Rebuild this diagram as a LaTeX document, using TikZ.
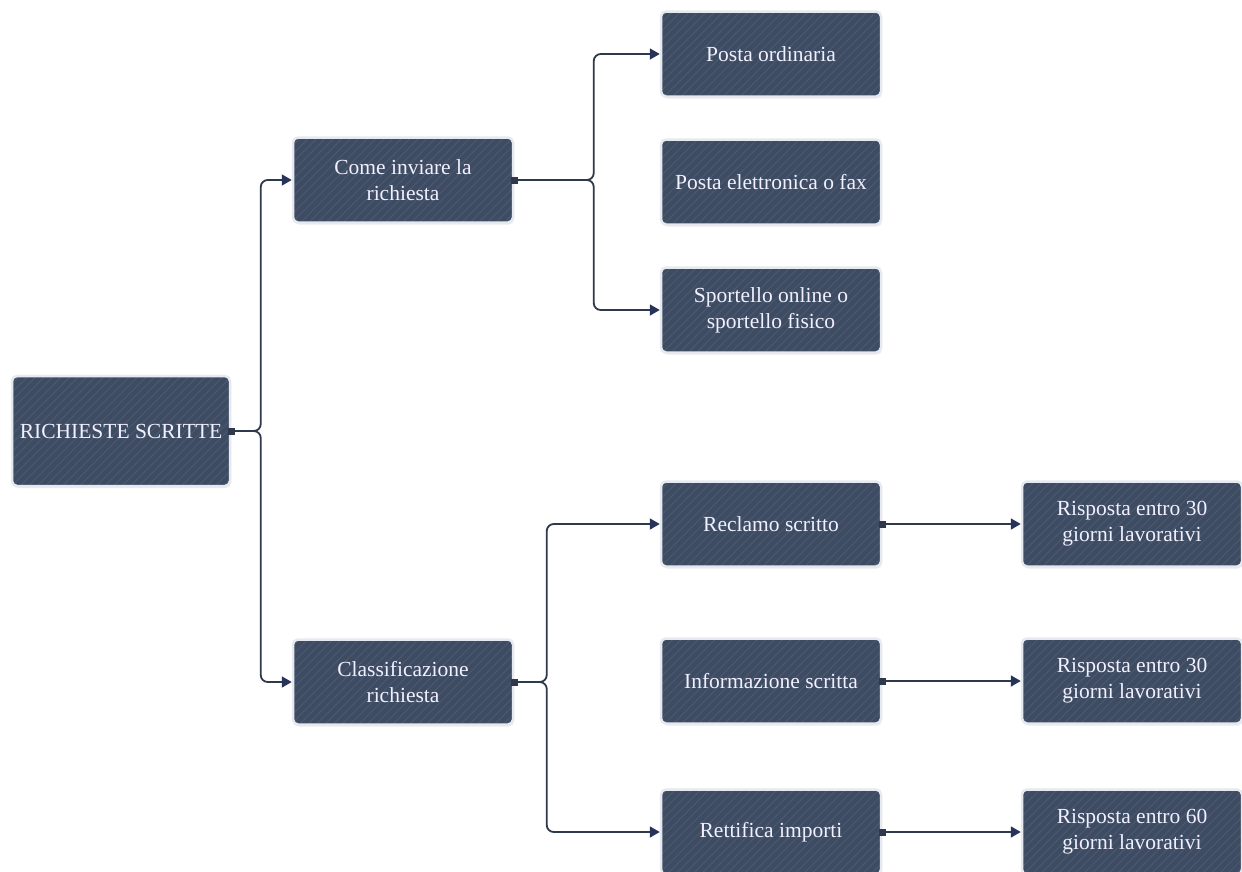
\documentclass[tikz,border=0pt]{standalone}
\usepackage{fontspec}
\setmainfont{Liberation Serif}
\usetikzlibrary{arrows.meta,shadows,patterns.meta}
\definecolor{boxfill}{HTML}{3E4C63}
\definecolor{boxrim}{HTML}{E6EAF0}
\definecolor{linecol}{HTML}{2E394B}
\definecolor{tipcol}{HTML}{26335A}
\tikzset{
  card/.style={rounded corners=5pt,
    drop shadow={opacity=0.15, shadow xshift=1pt, shadow yshift=-2pt},
    preaction={fill=boxfill},
    preaction={pattern={Lines[angle=45,distance=6pt,line width=1.2pt]}, pattern color=boxfill!94!white},
    draw=boxrim, line width=2.5pt,
    minimum width=220pt, minimum height=85pt, inner sep=0pt, align=center,
    text=white!94!blue, font=\fontsize{21.5}{26}\selectfont},
  link/.style={draw=linecol, line width=1.8pt, rounded corners=7pt,
    {Square[length=7pt,width=7pt,sep=-3pt]}-{Triangle[length=10pt,width=11pt,color=tipcol]}}
}
\begin{document}
\begin{tikzpicture}[x=1pt,y=-1pt]
\useasboundingbox[fill=white] (0,0) rectangle (1242,871);
% first level
\node[card, minimum width=218pt, minimum height=110pt] (root) at (121,431) {RICHIESTE SCRITTE};
\node[card] (come) at (403,180) {Come inviare la\\richiesta};
\node[card] (classe) at (403,682) {Classificazione\\richiesta};
% how to send
\node[card] (ordinaria) at (771,54) {Posta ordinaria};
\node[card] (mail) at (771,182) {Posta elettronica o fax};
\node[card] (sportello) at (771,310) {Sportello online o\\sportello fisico};
% kinds of request
\node[card] (reclamo) at (771,524) {Reclamo scritto};
\node[card] (info) at (771,681) {Informazione scritta};
\node[card] (rettifica) at (771,832) {Rettifica importi};
% answers
\node[card] (risp1) at (1132,524) {Risposta entro 30\\giorni lavorativi};
\node[card] (risp2) at (1132,681) {Risposta entro 30\\giorni lavorativi};
\node[card] (risp3) at (1132,832) {Risposta entro 60\\giorni lavorativi};
% connectors
\draw[link] (root.east) -| ([xshift=-31pt]come.west) -- (come.west);
\draw[link] (root.east) -| ([xshift=-31pt]classe.west) -- (classe.west);
\draw[link] (come.east) -| ([xshift=-66pt]ordinaria.west) -- (ordinaria.west);
\draw[link] (come.east) -| ([xshift=-66pt]sportello.west) -- (sportello.west);
\draw[link] (classe.east) -| ([xshift=-113pt]reclamo.west) -- (reclamo.west);
\draw[link] (classe.east) -| ([xshift=-113pt]rettifica.west) -- (rettifica.west);
\draw[link] (reclamo.east) -- (risp1.west);
\draw[link] (info.east) -- (risp2.west);
\draw[link] (rettifica.east) -- (risp3.west);
\end{tikzpicture}
\end{document}
